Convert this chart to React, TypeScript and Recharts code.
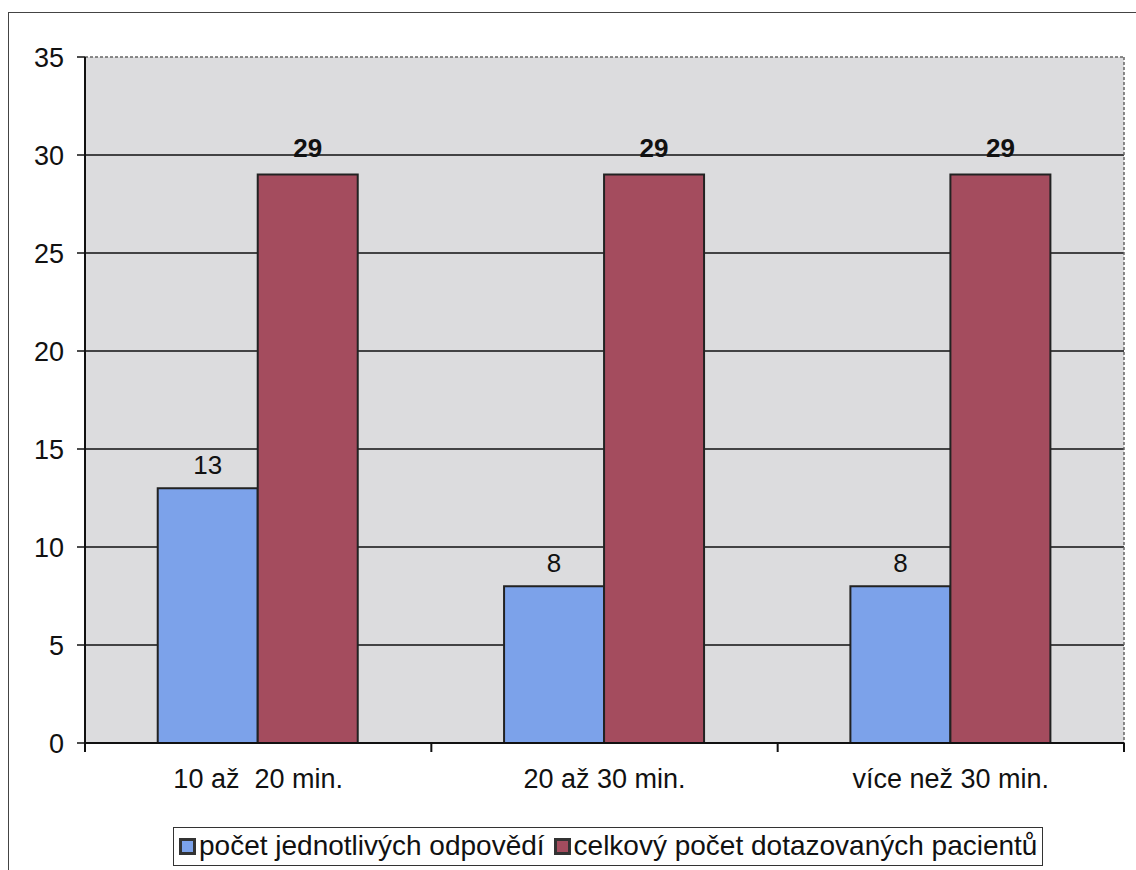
import React from 'react';
import {
    BarChart,
    Bar,
    XAxis,
    YAxis,
    CartesianGrid,
    Legend,
    LabelList,
} from 'recharts';

const categories = ['10 až  20 min.', '20 až 30 min.', 'více než 30 min.'];
const odpovedi = [13, 8, 8];
const pacienti = [29, 29, 29];
const yTicks = [0, 5, 10, 15, 20, 25, 30, 35];

const seriesNames = ['počet jednotlivých odpovědí', 'celkový počet dotazovaných pacientů'];
const seriesColors = ['#7ca2ea', '#a44c5e'];

const FONT = '"Liberation Sans", Arial, sans-serif';

const data = categories.map((name, i) => ({
    name,
    odpovedi: odpovedi[i],
    pacienti: pacienti[i],
}));

// category label centred under the group, tick marks on the group boundaries
function CategoryTick(props: any) {
    const { x, y, payload, index } = props;
    const half = payload?.offset ?? 173;
    return (
        <g>
            <line x1={x - half} x2={x - half} y1={y} y2={y + 9} stroke="#111" strokeWidth={2} />
            {index === categories.length - 1 && (
                <line x1={x + half} x2={x + half} y1={y} y2={y + 9} stroke="#111" strokeWidth={2} />
            )}
            <text
                x={x}
                y={y + 45}
                textAnchor="middle"
                fontSize={27}
                fontFamily={FONT}
                fill="#111"
                style={{ whiteSpace: 'pre' }}
            >
                {payload.value}
            </text>
        </g>
    );
}

function LegendBox() {
    return (
        <div
            style={{
                display: 'inline-flex',
                alignItems: 'center',
                border: '1.5px solid #333',
                background: '#fff',
                padding: '2px 5px 3px 5px',
                fontFamily: FONT,
                fontSize: 28,
                color: '#111',
                whiteSpace: 'nowrap',
            }}
        >
            {seriesNames.map((name, i) => (
                <span key={name} style={{ display: 'inline-flex', alignItems: 'center', marginRight: i === 0 ? 9 : 0 }}>
                    <span
                        style={{
                            display: 'inline-block',
                            width: 11,
                            height: 11,
                            background: seriesColors[i],
                            border: '3px solid #333',
                            marginRight: 3,
                        }}
                    />
                    {name}
                </span>
            ))}
        </div>
    );
}

export default function App() {
    return (
        <div style={{ position: 'absolute', left: 0, top: 0, width: 1136, height: 870, background: '#fff' }}>
            <div
                style={{
                    position: 'absolute',
                    left: 8,
                    top: 12,
                    width: 1128,
                    height: 858,
                    borderTop: '1.5px solid #444',
                    borderLeft: '1.5px solid #444',
                }}
            />
            <BarChart
                width={1136}
                height={870}
                data={data}
                margin={{ top: 57, right: 12, left: 25, bottom: 67 }}
                barCategoryGap="21%"
                barGap={0}
                style={{ position: 'absolute', left: 0, top: 0 }}
            >
                <CartesianGrid
                    fill="#dcdcde"
                    stroke="#111"
                    strokeWidth={1.5}
                    vertical={false}
                    horizontalCoordinatesGenerator={({ offset }: any) =>
                        yTicks.slice(1, -1).map((t) => offset.top + offset.height * (1 - t / 35))
                    }
                />
                <CartesianGrid
                    fill="none"
                    stroke="#666"
                    strokeWidth={1.5}
                    strokeDasharray="3 2"
                    horizontalCoordinatesGenerator={({ offset }: any) => [offset.top]}
                    verticalCoordinatesGenerator={({ offset }: any) => [offset.left + offset.width]}
                />
                <XAxis
                    dataKey="name"
                    height={60}
                    interval={0}
                    axisLine={{ stroke: '#111', strokeWidth: 2 }}
                    tickLine={false}
                    tickSize={0}
                    tickMargin={0}
                    tick={<CategoryTick />}
                />
                <YAxis
                    width={60}
                    domain={[0, 35]}
                    ticks={yTicks}
                    interval={0}
                    tickSize={8}
                    tickMargin={13}
                    axisLine={{ stroke: '#111', strokeWidth: 2 }}
                    tickLine={{ stroke: '#111', strokeWidth: 1.5 }}
                    tick={{ fontSize: 27, fill: '#111', fontFamily: FONT }}
                />
                <Legend
                    verticalAlign="middle"
                    align="center"
                    layout="horizontal"
                    wrapperStyle={{ top: 827, left: 173, width: 'auto' }}
                    content={() => <LegendBox />}
                />
                <Bar
                    dataKey="odpovedi"
                    name={seriesNames[0]}
                    fill={seriesColors[0]}
                    stroke="#222"
                    strokeWidth={2}
                    isAnimationActive={false}
                >
                    <LabelList
                        dataKey="odpovedi"
                        position="top"
                        offset={14}
                        style={{ fontSize: 26, fill: '#111', fontFamily: FONT }}
                    />
                </Bar>
                <Bar
                    dataKey="pacienti"
                    name={seriesNames[1]}
                    fill={seriesColors[1]}
                    stroke="#222"
                    strokeWidth={2}
                    isAnimationActive={false}
                >
                    <LabelList
                        dataKey="pacienti"
                        position="top"
                        offset={18}
                        style={{ fontSize: 26, fill: '#111', fontFamily: FONT, fontWeight: 'bold' }}
                    />
                </Bar>
            </BarChart>
        </div>
    );
}
